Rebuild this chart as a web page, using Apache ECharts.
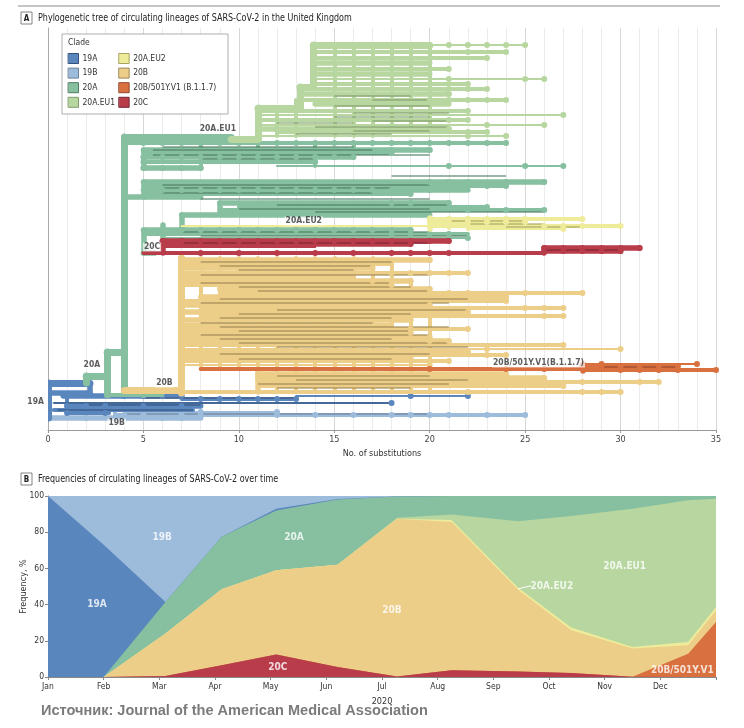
<!DOCTYPE html>
<html>
<head>
<meta charset="utf-8">
<script src="https://cdn.jsdelivr.net/npm/echarts/dist/echarts.min.js"></script>
<style>
  html, body { margin: 0; padding: 0; background: #fff; }
  #main { width: 744px; height: 728px; }
</style>
</head>
<body>
<div id="main"></div>
<script>
// ---------- clades ----------
var clades = ['19A', '19B', '20A', '20A.EU1', '20A.EU2', '20B', '20B/501Y.V1 (B.1.1.7)', '20C'];
var cladeColors = ['#5a86be', '#9dbcdc', '#86c0a0', '#b8d7a0', '#eeeb9b', '#ecce89', '#d9703f', '#b83c4a'];
var cladeDark = ['#34517c', '#6d8199', '#4d7d62', '#7f9c6c', '#a6a35e', '#9c8753', '#93452a', '#7a2530'];

// ---------- panel A: tree ----------
// branch: [tip row, from substitutions, to substitutions, rank (4 trunk .. 1 tip), [nodes]]
// link:   [substitutions, from row, to row, rank]
// dark:   [row, from, to]
var branches19A = [
  [383, 0, 2.2, 4], [393, 0, 2.2, 3], [396, 0.8, 7, 3, [4, 5, 6, 7]],
  [399, 7, 13, 2, [8, 9, 10, 11, 12, 13]], [396, 13, 22, 1, [19, 22]],
  [403, 0.3, 18, 1, [18]], [406, 1, 8, 3, [1, 2, 3, 5, 7]], [410, 0.3, 7.6, 2], [413, 1, 3.2, 2, [1, 3]]
];
var links19A = [[0, 383, 418, 4], [2.2, 383, 393, 3], [1, 396, 413, 2]];
var dark19A = [[403, 0.3, 18], [410, 0.5, 7.6], [398, 5, 13], [405, 2, 8]];

var branches19B = [
  [415, 3.5, 25, 2, [4, 5, 7, 8, 12, 14, 16, 18, 19, 20, 21, 23, 25]],
  [418, 0, 8, 3, [2, 6, 7]], [412, 4, 12, 1, [8, 12]]
];
var links19B = [[3.5, 412, 418, 2]];
var dark19B = [[414, 4, 20]];

var branches20A = [
  [376, 2.0, 3.1, 4], [352, 3.1, 4.0, 4], [395, 3.1, 6, 2, [5]], [137, 4, 9.6, 4],
  [143, 4, 24, 2, [5, 6, 7, 8, 9, 10, 11, 12, 13, 14, 15, 16, 17, 18, 19, 20, 21, 22, 23, 24]],
  [150, 5, 20, 3, [18, 20]], [153, 5, 18, 2, [18]],
  [157, 5, 16, 3, [5, 6, 7, 8, 9, 10, 11, 12, 13, 14, 15, 16]],
  [162, 5, 14, 2, [5, 14]], [166, 12, 27, 1, [21, 25, 27]], [168, 5, 8, 3, [5, 6, 7, 8]],
  [182, 5, 26, 3, [20, 21, 22, 24, 26]], [186, 5, 24, 2, [22, 23, 24]],
  [190, 5, 22, 3, [6, 7, 8, 9, 10, 11, 12, 13, 14, 15, 16, 17, 18, 19, 20]],
  [194, 5, 19, 2, [19]], [197, 4, 8, 3],
  [203, 9, 21, 3, [18, 19, 21]], [207, 10, 23, 2, [23]], [210, 9, 26, 2, [22, 24, 26]], [213, 9, 20, 2],
  [215, 7, 20, 3], [230, 5, 19, 3, [6, 7, 8, 9, 10, 11, 12, 13, 14, 15, 16, 17, 18, 19]],
  [234, 5, 22, 2, [18, 19, 20, 21]], [238, 6, 22, 1, [22]], [253, 5, 5.6, 3]
];
var links20A = [
  [2.0, 376, 383, 4], [3.1, 352, 395, 4], [4.0, 137, 392, 4], [5, 150, 168, 3], [5, 182, 197, 3],
  [9, 203, 213, 3], [7, 215, 230, 3], [6, 225, 240, 3], [5, 230, 253, 3],
  [8, 143, 168, 2], [11, 143, 162, 2], [14, 143, 166, 2], [16, 143, 157, 2],
  [8, 182, 197, 2], [12, 182, 194, 2], [16, 182, 194, 2], [12, 203, 213, 2], [15, 203, 213, 2]
];
var dark20A = [
  [150, 5.5, 17], [155, 5.5, 20], [159, 8, 14], [147, 6, 16], [176, 18, 24], [185, 6, 20], [188, 6, 18],
  [193, 6, 17], [199, 8, 20], [205, 12, 21], [209, 10, 20], [212, 14, 26], [232, 7, 20], [236, 8, 22]
];

var branchesEU1 = [
  [139, 9.6, 11, 4], [108, 11, 13.2, 4], [87, 13.2, 13.9, 4],
  [45, 13.9, 20, 4, [14, 15, 16, 17, 18, 19, 20]], [45, 20, 25, 1, [21, 22, 23, 24, 25]],
  [52, 14, 24, 2, [20, 22, 24]], [58, 14, 23, 2, [23]], [63, 14, 20, 3, [19]], [69, 14, 21, 2, [21]],
  [74, 14, 20, 3], [79, 14, 26, 1, [21, 25, 26]], [84, 14, 22, 2, [22]], [89, 13.2, 23, 2, [21, 22, 23]],
  [94, 13.2, 21, 3, [21]], [100, 13.2, 24, 2, [20, 21, 22, 23, 24]], [104, 14, 21, 3],
  [111, 11, 22, 2, [22]], [115, 11, 27, 1, [27]], [120, 11, 22, 2, [21, 22]], [125, 11, 26, 1, [23, 26]],
  [129, 11, 21, 3, [21]], [132, 12, 23, 2, [22, 23]], [136, 11, 24, 1, [22, 24]]
];
var linksEU1 = [
  [11, 108, 139, 4], [13.2, 87, 108, 4], [13.9, 45, 87, 4],
  [15, 45, 136, 2], [16, 45, 136, 2], [17, 45, 136, 2], [18, 45, 132, 2], [19, 45, 132, 2],
  [20, 45, 129, 2], [12, 111, 136, 2], [13, 100, 136, 2]
];
var darkEU1 = [
  [96, 15, 19], [100, 17, 20], [117, 15, 20], [121, 17, 21], [127, 14, 21], [131, 16, 20],
  [134, 13, 18], [123, 12, 16], [106, 15, 20], [113, 16, 21]
];

var branchesEU2 = [
  [226, 7, 20, 1], [219, 20, 28, 2, [20, 21, 22, 23, 24, 25, 28]], [222, 20, 25, 3, [21, 22, 23, 24, 25]],
  [226, 20, 30, 2, [21, 22, 26, 27, 28, 30]], [229, 22, 27, 1, [27]]
];
var linksEU2 = [[20, 218, 229, 3], [21, 218, 228, 2], [22, 218, 229, 2]];
var darkEU2 = [[221, 21, 25], [224, 22, 26], [227, 24, 28]];

var branches20B = [
  [390, 4, 7, 4], [260, 7, 20, 3, [20]], [264, 7, 18, 2], [268, 7, 17, 3, [17]],
  [273, 7, 22, 2, [18, 19, 20, 21, 22]], [277, 7, 16, 3], [281, 7, 19, 3, [17, 18, 19]], [285, 7, 18, 2, [18]],
  [289, 9, 20, 3, [20]], [293, 9, 28, 2, [20, 21, 22, 25, 28]], [297, 8, 24, 3, [23, 24]], [301, 7, 24, 2, [24]],
  [305, 7, 20, 3, [20]], [308, 8, 27, 2, [25, 26, 27]], [312, 7, 22, 3, [22]], [316, 8, 27, 2, [26, 27]],
  [320, 7, 19, 3, [19]], [325, 7, 18, 2], [329, 7, 22, 2, [19, 22]], [333, 7, 19, 3, [19]],
  [337, 7, 20, 2, [20]], [341, 7, 21, 3, [20, 21]], [345, 7, 27, 2, [27]], [349, 7, 30, 1, [23, 30]],
  [352, 7, 22, 3, [22]], [355, 7, 24, 2, [23, 24]], [358, 7, 19, 2, [19]], [361, 7, 21, 2, [21]],
  [365, 7, 20, 1, [20]], [374, 11, 24, 3, [24]], [378, 11, 26, 3, [24, 26]], [382, 11, 32, 2, [26, 28, 31, 32]],
  [386, 11, 27, 2, [27]], [392, 4, 30, 2, [22, 28, 29, 30]]
];
var links20B = [
  [7, 258, 393, 4], [11, 372, 392, 3],
  [8, 258, 366, 2], [9, 258, 366, 2], [10, 258, 366, 2], [11, 258, 366, 2], [12, 258, 392, 2],
  [13, 258, 392, 2], [14, 258, 392, 2], [15, 258, 392, 2], [16, 258, 392, 2], [17, 258, 392, 2],
  [18, 262, 392, 2], [19, 280, 392, 2], [20, 289, 392, 2]
];
var dark20B = [
  [262, 8, 18], [266, 9, 17], [275, 8, 20], [283, 8, 18], [287, 10, 19], [299, 9, 22], [303, 8, 21],
  [310, 12, 22], [318, 9, 18], [323, 8, 17], [327, 9, 21], [331, 10, 19], [335, 8, 20], [339, 9, 18],
  [343, 10, 21], [347, 12, 22], [354, 9, 20], [359, 10, 18], [376, 12, 20], [380, 13, 22], [384, 11, 21],
  [388, 12, 19], [270, 10, 16], [291, 11, 20], [314, 10, 19]
];

var branchesV1 = [
  [369, 8, 28, 2, [20, 24, 26]], [364, 28, 34, 1, [29, 34]],
  [366, 28, 33, 3, [28, 29, 30, 31, 32, 33]], [370, 28, 35, 2, [30, 31, 32, 33, 35]]
];
var linksV1 = [[28, 364, 371, 3], [29, 364, 370, 2], [31, 365, 370, 2], [32, 365, 370, 2]];
var darkV1 = [[367, 29, 33]];

var branches20C = [
  [241, 6, 21, 3, [6, 7, 8, 9, 10, 11, 12, 13, 14, 15, 16, 17, 18, 19, 20, 21]], [244, 6, 19, 3, [19]],
  [247, 6, 14, 1], [253, 5, 26, 2, [8, 10, 12, 14, 16, 18, 19, 20, 21]],
  [248, 26, 31, 3, [26, 27, 28, 29, 30, 31]], [251, 26, 30, 3, [27, 28, 29, 30]]
];
var links20C = [[6, 241, 253, 3], [26, 248, 253, 3], [29, 248, 252, 2], [30, 248, 252, 2]];
var dark20C = [[243, 7, 20], [250, 26, 30]];

// clade labels on the tree: [substitutions, row, text]
var treeLabels = [
  [8.9, 129, '20A.EU1'], [13.4, 221, '20A.EU2'], [5.45, 247, '20C'], [2.3, 365, '20A'],
  [6.1, 383, '20B'], [-0.65, 402, '19A'], [3.6, 423, '19B'], [25.7, 363, '20B/501Y.V1(B.1.1.7)']
];

// ---------- panel B: frequencies over time ----------
var months = ['Jan', 'Feb', 'Mar', 'Apr', 'May', 'Jun', 'Jul', 'Aug', 'Sep', 'Oct', 'Nov', 'Dec'];
var timePoints = [0, 1, 2.11, 3.12, 4.1, 5.2, 6.27, 7.25, 8.45, 9.4, 10.5, 11.5, 12];
// bottom to top
var freq20C = [0, 0, 0.5, 6.5, 12.5, 5.5, 0.3, 3.7, 3, 2.2, 0.2, 0, 0];
var freqV1 = [0, 0, 0, 0, 0, 0, 0, 0, 0, 0, 0, 12.9, 30.4];
var freq20B = [0, 0, 23.5, 42, 46.5, 56.5, 87.2, 82, 45, 23.6, 15.5, 4.6, 6.4];
var freqEU2 = [0, 0, 0, 0, 0, 0, 0, 1, 1.2, 1.5, 0.9, 1.8, 1.9];
var freqEU1 = [0, 0, 0, 0, 0, 0, 0.5, 3.1, 36.8, 61.7, 76.4, 78.3, 59.8];
var freq20A = [0, 0, 17.5, 29, 33, 36, 11.7, 10.2, 14, 11, 7, 2.4, 1.5];
var freq19A = [100, 73, 0, 0, 1, 0.3, 0, 0, 0, 0, 0, 0, 0];
var freq19B = [0, 27, 58.5, 22.5, 7, 1.7, 0.3, 0, 0, 0, 0, 0, 0];
// area labels: [month position, %, text]
var areaLabels = [
  [0.88, 40, '19A'], [2.05, 77, '19B'], [4.42, 77, '20A'], [6.18, 37, '20B'], [4.13, 5.5, '20C'],
  [10.36, 61, '20A.EU1'], [9.05, 50.3, '20A.EU2']
];

var FONT = "'Liberation Sans Narrow','DejaVu Sans Condensed','Roboto','Noto Sans',sans-serif";
var rankWidth = { 4: 7, 3: 5.5, 2: 4, 1: 2.2 };

var myChart = echarts.init(document.getElementById('main'), null, { renderer: 'canvas' });

function treeSeries(ci, branches, links, darkLines, z) {
  var name = clades[ci], color = cladeColors[ci];
  var segs = [], dots = [];
  branches.forEach(function (b) {
    segs.push({ coords: [[b[1], b[0]], [b[2], b[0]]], lineStyle: { width: rankWidth[b[3]] } });
    (b[4] || []).forEach(function (x) { dots.push([x, b[0]]); });
  });
  links.forEach(function (l) {
    segs.push({ coords: [[l[0], l[1]], [l[0], l[2]]], lineStyle: { width: rankWidth[l[3]] } });
  });
  var darkSegs = darkLines.map(function (d) {
    return { coords: [[d[1], d[0]], [d[2], d[0]]] };
  });
  return [
    {
      name: name, type: 'lines', coordinateSystem: 'cartesian2d', xAxisIndex: 0, yAxisIndex: 0,
      silent: true, z: z, lineStyle: { color: color, opacity: 1, cap: 'round' }, data: segs
    },
    {
      name: name, type: 'lines', coordinateSystem: 'cartesian2d', xAxisIndex: 0, yAxisIndex: 0,
      silent: true, z: z + 1, lineStyle: { color: cladeDark[ci], width: 1.5, opacity: 0.75 }, data: darkSegs
    },
    {
      name: name, type: 'scatter', xAxisIndex: 0, yAxisIndex: 0, silent: true, z: z + 2,
      symbolSize: 6, itemStyle: { color: color, opacity: 1 }, data: dots
    }
  ];
}

var series = [];
series = series.concat(treeSeries(1, branches19B, links19B, dark19B, 2));
series = series.concat(treeSeries(0, branches19A, links19A, dark19A, 5));
series = series.concat(treeSeries(2, branches20A, links20A, dark20A, 8));
series = series.concat(treeSeries(5, branches20B, links20B, dark20B, 11));
series = series.concat(treeSeries(7, branches20C, links20C, dark20C, 14));
series = series.concat(treeSeries(4, branchesEU2, linksEU2, darkEU2, 17));
series = series.concat(treeSeries(3, branchesEU1, linksEU1, darkEU1, 20));
series = series.concat(treeSeries(6, branchesV1, linksV1, darkV1, 23));

series.push({
  type: 'scatter', xAxisIndex: 0, yAxisIndex: 0, silent: true, z: 30, clip: false,
  symbolSize: 1, itemStyle: { color: 'rgba(0,0,0,0)' },
  label: {
    show: true, position: 'inside', formatter: function (p) { return p.data[2]; },
    color: '#333', fontSize: 8.5, fontWeight: 'bold', fontFamily: FONT,
    backgroundColor: 'rgba(255,255,255,0.85)', padding: [0, 1]
  },
  data: treeLabels
});

// stacked frequencies, drawn as cumulative totals
var layers = [
  [7, freq20C], [6, freqV1], [5, freq20B], [4, freqEU2], [3, freqEU1], [2, freq20A], [0, freq19A], [1, freq19B]
];
var running = timePoints.map(function () { return 0; });
layers.forEach(function (layer, i) {
  running = running.map(function (s, k) { return s + layer[1][k]; });
  var pts = timePoints.map(function (t, k) { return [t, Math.min(100, running[k])]; });
  series.push({
    name: clades[layer[0]], type: 'line', xAxisIndex: 1, yAxisIndex: 1, silent: true,
    z: 20 - i, symbol: 'none', lineStyle: { width: 0 },
    areaStyle: { color: cladeColors[layer[0]], opacity: 1 }, data: pts
  });
});

series.push({
  type: 'lines', coordinateSystem: 'cartesian2d', xAxisIndex: 1, yAxisIndex: 1, silent: true, z: 30,
  lineStyle: { color: '#fff', width: 1, opacity: 1 }, data: [{ coords: [[8.45, 48.8], [8.68, 50.4]] }]
});
series.push({
  type: 'scatter', xAxisIndex: 1, yAxisIndex: 1, silent: true, z: 31,
  symbolSize: 1, itemStyle: { color: 'rgba(0,0,0,0)' },
  label: {
    show: true, position: 'inside', formatter: function (p) { return p.data[2]; },
    color: '#fff', fontSize: 10, fontWeight: 'bold', fontFamily: FONT
  },
  data: areaLabels
});
series.push({
  type: 'scatter', xAxisIndex: 1, yAxisIndex: 1, silent: true, z: 31,
  symbolSize: 1, itemStyle: { color: 'rgba(0,0,0,0)' },
  label: {
    show: true, position: 'left', distance: 0, formatter: function (p) { return p.data[2]; },
    color: '#fff', fontSize: 10, fontWeight: 'bold', fontFamily: FONT
  },
  data: [[11.97, 3.9, '20B/501Y.V1']]
});

var legendData = clades.map(function (c, i) {
  return { name: c, icon: 'rect', itemStyle: { color: cladeColors[i], borderColor: cladeDark[i], borderWidth: 1 } };
});

option = {
  animation: false,
  textStyle: { fontFamily: FONT },
  legend: {
    data: legendData, orient: 'vertical', left: 63, top: 48, height: 60,
    itemWidth: 10, itemHeight: 10, itemGap: 3.6, selectedMode: false, z: 40,
    textStyle: { fontSize: 8.5, color: '#333', width: 42, fontFamily: FONT, padding: [0, 0, 0, -1] }
  },
  graphic: [
    { type: 'line', z: 50, shape: { x1: 18, y1: 6, x2: 720, y2: 6 }, style: { stroke: '#8a8a8a', lineWidth: 1 } },
    { type: 'rect', z: 50, shape: { x: 21, y: 12, width: 11, height: 12 }, style: { stroke: '#666', fill: '#fff', lineWidth: 0.8 } },
    { type: 'text', z: 51, style: { x: 26.5, y: 18.5, text: 'A', align: 'center', verticalAlign: 'middle', fontSize: 8, fontWeight: 'bold', fill: '#222', fontFamily: FONT } },
    { type: 'text', z: 51, x: 38, y: 18, scaleX: 0.89, style: { x: 0, y: 0, text: 'Phylogenetic tree of circulating lineages of SARS-CoV-2 in the United Kingdom', verticalAlign: 'middle', fontSize: 10, fill: '#222', fontFamily: FONT } },
    { type: 'rect', z: 35, shape: { x: 62, y: 34, width: 166, height: 80 }, style: { stroke: '#999', fill: '#fff', lineWidth: 0.8 } },
    { type: 'text', z: 51, style: { x: 68, y: 43, text: 'Clade', verticalAlign: 'middle', fontSize: 8.5, fill: '#333', fontFamily: FONT } },
    { type: 'rect', z: 50, shape: { x: 21, y: 473, width: 11, height: 12 }, style: { stroke: '#666', fill: '#fff', lineWidth: 0.8 } },
    { type: 'text', z: 51, style: { x: 26.5, y: 479.5, text: 'B', align: 'center', verticalAlign: 'middle', fontSize: 8, fontWeight: 'bold', fill: '#222', fontFamily: FONT } },
    { type: 'text', z: 51, x: 38, y: 479, scaleX: 0.89, style: { x: 0, y: 0, text: 'Frequencies of circulating lineages of SARS-CoV-2 over time', verticalAlign: 'middle', fontSize: 10, fill: '#222', fontFamily: FONT } },
    { type: 'text', z: 51, x: 41, y: 711, scaleX: 0.97, style: { x: 0, y: 0, text: 'Источник: Journal of the American Medical Association', verticalAlign: 'middle', fontSize: 15, fontWeight: 'bold', fill: '#7b7b7b', fontFamily: "'Liberation Sans',Arial,sans-serif" } }
  ],
  grid: [
    { left: 48, right: 28, top: 28, height: 402 },
    { left: 48, right: 28, top: 496, height: 181 }
  ],
  xAxis: [
    {
      type: 'value', gridIndex: 0, min: 0, max: 35, interval: 5,
      name: 'No. of substitutions', nameLocation: 'middle', nameGap: 17,
      nameTextStyle: { fontSize: 9, color: '#333', fontFamily: FONT },
      axisLine: { lineStyle: { color: '#999' } },
      axisTick: { show: true, length: 3, lineStyle: { color: '#999' } },
      axisLabel: { fontSize: 9, color: '#444', margin: 5, fontFamily: FONT },
      splitLine: { show: true, lineStyle: { color: '#d6d6d6', width: 1 } },
      minorTick: { show: false, splitNumber: 5 },
      minorSplitLine: { show: true, lineStyle: { color: '#ebebeb', width: 1 } }
    },
    {
      type: 'value', gridIndex: 1, min: 0, max: 12, interval: 1,
      name: '2020', nameLocation: 'middle', nameGap: 20,
      nameTextStyle: { fontSize: 9, color: '#333', fontFamily: FONT },
      axisLine: { lineStyle: { color: '#888' } },
      axisTick: { show: true, length: 3, lineStyle: { color: '#888' } },
      axisLabel: {
        fontSize: 8.5, color: '#333', margin: 5, fontFamily: FONT,
        formatter: function (v) { return months[v] || ''; }
      },
      splitLine: { show: false }
    }
  ],
  yAxis: [
    {
      type: 'value', gridIndex: 0, min: 28, max: 430, inverse: true,
      axisLine: { show: true, lineStyle: { color: '#aaa' } },
      axisTick: { show: false }, axisLabel: { show: false }, splitLine: { show: false }
    },
    {
      type: 'value', gridIndex: 1, min: 0, max: 100, interval: 20,
      name: 'Frequency, %', nameLocation: 'middle', nameGap: 20, nameRotate: 90, nameMoveOverlap: false,
      nameTextStyle: { fontSize: 9, color: '#333', fontFamily: FONT },
      axisLine: { show: true, lineStyle: { color: '#888' } },
      axisTick: { show: true, length: 3, lineStyle: { color: '#888' } },
      axisLabel: { fontSize: 8.5, color: '#333', margin: 4, fontFamily: FONT },
      splitLine: { show: false }
    }
  ],
  series: series
};
myChart.setOption(option);
</script>
</body>
</html>
